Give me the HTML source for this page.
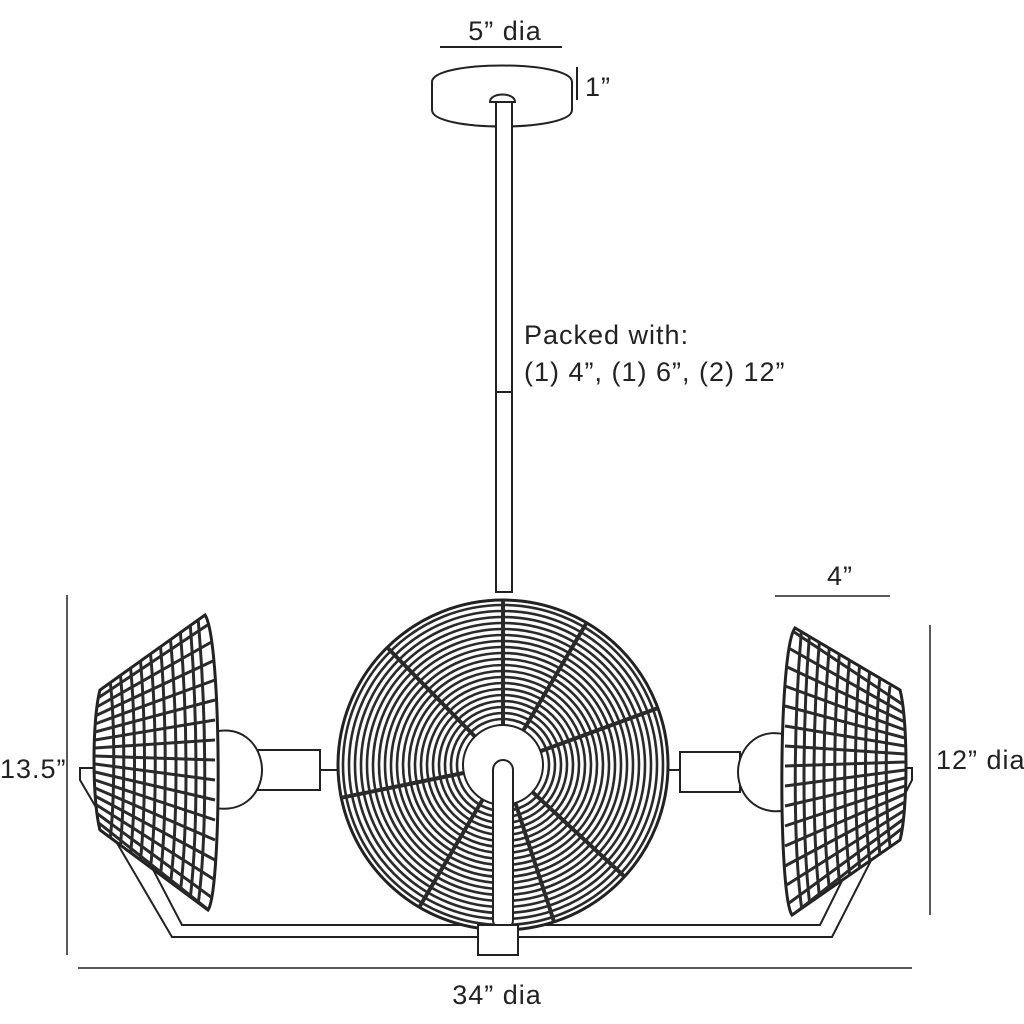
<!DOCTYPE html>
<html><head><meta charset="utf-8"><style>
html,body{margin:0;padding:0;background:#fff;}
svg{display:block}
text{font-family:"Liberation Sans",sans-serif;fill:#222;font-size:27px;letter-spacing:1px;}
</style></head><body>
<svg width="1024" height="1024" viewBox="0 0 1024 1024" xmlns="http://www.w3.org/2000/svg">
<defs>
<clipPath id="disk"><circle cx="503" cy="765" r="165"/></clipPath>
<clipPath id="lshade"><path d="M205,615 C222,640 222,890 208,910 L100,830 C92,800 92,720 100,690 Z"/></clipPath>
<clipPath id="rshade"><path d="M795,628 C778,650 778,895 792,915 L900,840 C908,810 908,720 900,690 Z"/></clipPath>
</defs>
<g stroke="#222" fill="none" stroke-width="2">
<line x1="440" y1="47" x2="562" y2="47"/>
<line x1="577" y1="67" x2="577" y2="100"/>
<path d="M432,82 C432,60 572,60 572,82 L572,110 C572,132 432,132 432,110 Z" fill="#fff"/>
<path d="M490,102 C490,92 515,92 515,102 Z" fill="#fff"/>
<rect x="496" y="102" width="16" height="490" fill="#fff"/>
<line x1="496" y1="392" x2="512" y2="392"/>
<path d="M80,768 L100,768 L182,925 L820,925 L898,768 L912,768 L912,780 L832,937 L172,937 L80,780 Z" fill="#fff"/>
<rect x="258" y="750" width="62" height="40" fill="#fff"/>
<rect x="680" y="752" width="60" height="40" fill="#fff"/>
<line x1="320" y1="770" x2="340" y2="770"/>
<line x1="665" y1="770" x2="680" y2="770"/>
<path d="M205,735 C240,720 262,745 262,770 C262,795 240,818 205,805" fill="#fff"/>
<path d="M795,738 C760,722 738,748 738,772 C738,797 760,820 795,808" fill="#fff"/>
</g>
<circle cx="503" cy="765" r="165" fill="#fff" stroke="#222" stroke-width="3"/>
<g clip-path="url(#disk)" stroke="#2a2a2a" fill="none" stroke-width="2.6">
<circle cx="503" cy="765" r="160"/><circle cx="503" cy="765" r="154"/><circle cx="503" cy="765" r="148"/><circle cx="503" cy="765" r="142"/><circle cx="503" cy="765" r="136"/><circle cx="503" cy="765" r="130"/><circle cx="503" cy="765" r="124"/><circle cx="503" cy="765" r="118"/><circle cx="503" cy="765" r="112"/><circle cx="503" cy="765" r="106"/><circle cx="503" cy="765" r="100"/><circle cx="503" cy="765" r="94"/><circle cx="503" cy="765" r="88"/><circle cx="503" cy="765" r="82"/><circle cx="503" cy="765" r="76"/><circle cx="503" cy="765" r="70"/><circle cx="503" cy="765" r="64"/><circle cx="503" cy="765" r="58"/><circle cx="503" cy="765" r="52"/><circle cx="503" cy="765" r="46"/>
<g stroke-width="4">
<line x1="503" y1="765" x2="503" y2="590"/><line x1="503" y1="765" x2="680" y2="700"/><line x1="503" y1="765" x2="650" y2="900"/><line x1="503" y1="765" x2="400" y2="940"/><line x1="503" y1="765" x2="330" y2="800"/><line x1="503" y1="765" x2="370" y2="630"/><line x1="503" y1="765" x2="600" y2="600"/><line x1="503" y1="765" x2="560" y2="940"/>
</g>
</g>
<circle cx="503" cy="765" r="40" fill="#fff" stroke="#222" stroke-width="2"/>
<rect x="493" y="760" width="20" height="170" rx="10" fill="#fff" stroke="#222" stroke-width="2"/>
<rect x="478" y="925" width="40" height="30" fill="#fff" stroke="#222" stroke-width="2"/>
<path d="M205,615 C222,640 222,890 208,910 L100,830 C92,800 92,720 100,690 Z" fill="#fff" stroke="#222" stroke-width="3"/>
<g clip-path="url(#lshade)" stroke="#2a2a2a" stroke-width="3" fill="none">
<line x1="95" y1="700" x2="215" y2="620"/><line x1="95" y1="708" x2="215" y2="640"/><line x1="95" y1="716" x2="215" y2="660"/><line x1="95" y1="724" x2="215" y2="680"/><line x1="95" y1="732" x2="215" y2="700"/><line x1="95" y1="740" x2="215" y2="720"/><line x1="95" y1="748" x2="215" y2="740"/><line x1="95" y1="756" x2="215" y2="760"/><line x1="95" y1="764" x2="215" y2="780"/><line x1="95" y1="772" x2="215" y2="800"/><line x1="95" y1="780" x2="215" y2="820"/><line x1="95" y1="788" x2="215" y2="840"/><line x1="95" y1="796" x2="215" y2="860"/><line x1="95" y1="804" x2="215" y2="880"/><line x1="95" y1="812" x2="215" y2="900"/><line x1="95" y1="820" x2="215" y2="915"/>
<path d="M110,680 C115,720 115,800 110,840 M120,670 C125,720 125,800 120,850 M130,662 C136,720 136,810 130,858 M140,655 C146,720 146,810 140,865 M150,648 C157,720 157,815 150,872 M160,640 C167,720 167,820 160,880 M170,634 C178,720 178,825 170,888 M180,628 C188,720 188,830 180,895 M190,622 C198,720 198,835 190,900 M198,618 C207,720 207,840 198,905" stroke-width="3"/>
</g>
<path d="M795,628 C778,650 778,895 792,915 L900,840 C908,810 908,720 900,690 Z" fill="#fff" stroke="#222" stroke-width="3"/>
<g clip-path="url(#rshade)" stroke="#2a2a2a" stroke-width="3" fill="none">
<g transform="translate(1000,6) scale(-1,1)">
<line x1="95" y1="700" x2="215" y2="620"/><line x1="95" y1="708" x2="215" y2="640"/><line x1="95" y1="716" x2="215" y2="660"/><line x1="95" y1="724" x2="215" y2="680"/><line x1="95" y1="732" x2="215" y2="700"/><line x1="95" y1="740" x2="215" y2="720"/><line x1="95" y1="748" x2="215" y2="740"/><line x1="95" y1="756" x2="215" y2="760"/><line x1="95" y1="764" x2="215" y2="780"/><line x1="95" y1="772" x2="215" y2="800"/><line x1="95" y1="780" x2="215" y2="820"/><line x1="95" y1="788" x2="215" y2="840"/><line x1="95" y1="796" x2="215" y2="860"/><line x1="95" y1="804" x2="215" y2="880"/><line x1="95" y1="812" x2="215" y2="900"/><line x1="95" y1="820" x2="215" y2="915"/>
<path d="M110,680 C115,720 115,800 110,840 M120,670 C125,720 125,800 120,850 M130,662 C136,720 136,810 130,858 M140,655 C146,720 146,810 140,865 M150,648 C157,720 157,815 150,872 M160,640 C167,720 167,820 160,880 M170,634 C178,720 178,825 170,888 M180,628 C188,720 188,830 180,895 M190,622 C198,720 198,835 190,900 M198,618 C207,720 207,840 198,905" stroke-width="3"/>
</g>
</g>
<g stroke="#222" stroke-width="1.5">
<line x1="67" y1="595" x2="67" y2="955"/>
<line x1="78" y1="968" x2="912" y2="968"/>
<line x1="930" y1="625" x2="930" y2="915"/>
<line x1="775" y1="596" x2="890" y2="596"/>
</g>
<text x="505" y="40" text-anchor="middle">5” dia</text>
<text x="585" y="96">1”</text>
<text x="524" y="344">Packed with:</text>
<text x="524" y="381">(1) 4”, (1) 6”, (2) 12”</text>
<text x="840" y="585" text-anchor="middle">4”</text>
<text x="0" y="778">13.5”</text>
<text x="936" y="769">12” dia</text>
<text x="497" y="1004" text-anchor="middle">34” dia</text>
</svg>
</body></html>
